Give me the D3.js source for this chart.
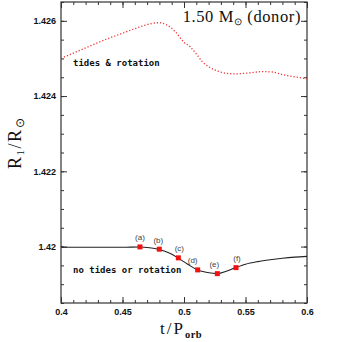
<!DOCTYPE html>
<html>
<head>
<meta charset="utf-8">
<script src="https://cdn.jsdelivr.net/npm/d3@7"></script>
<style>
  body { margin: 0; background: #fff; }
  svg { display: block; }
</style>
</head>
<body>
<svg id="chart1"></svg>
<script>
// Data
const tidesT = [0.400, 0.410, 0.420, 0.430, 0.440, 0.450, 0.460, 0.468, 0.474, 0.480, 0.486, 0.493, 0.500, 0.505, 0.510, 0.515, 0.520, 0.527, 0.533, 0.540, 0.547, 0.554, 0.564, 0.572, 0.580, 0.590, 0.600];
const tidesR = [1.42500, 1.42514, 1.42528, 1.42542, 1.42555, 1.42567, 1.42579, 1.42588, 1.42593, 1.42595, 1.42589, 1.42571, 1.42543, 1.42531, 1.42512, 1.42491, 1.42478, 1.42467, 1.42461, 1.42459, 1.42460, 1.42462, 1.42465, 1.42464, 1.42457, 1.42451, 1.42446];

const noTidesT = [0.400, 0.402, 0.410, 0.430, 0.450, 0.464, 0.472, 0.480, 0.488, 0.495, 0.503, 0.511, 0.519, 0.527, 0.535, 0.542, 0.550, 0.560, 0.570, 0.580, 0.590, 0.600];
const noTidesR = [1.42001, 1.41998, 1.41998, 1.41998, 1.41998, 1.41999, 1.41997, 1.41992, 1.41983, 1.41970, 1.41953, 1.41938, 1.41931, 1.41928, 1.41935, 1.41944, 1.41953, 1.41960, 1.41965, 1.41969, 1.41972, 1.41974];

const markerT = [0.4642, 0.4799, 0.4954, 0.5111, 0.5271, 0.5423];
const markerR = [1.41999, 1.41993, 1.41970, 1.41938, 1.41928, 1.41944];
const markerLabels = ["(a)", "(b)", "(c)", "(d)", "(e)", "(f)"];
const markerDx = [0, -1, 1, -5, -3, 1];

const xMajor = [0.4, 0.45, 0.5, 0.55, 0.6];
const xMajorLabels = ["0.4", "0.45", "0.5", "0.55", "0.6"];
const yMajor = [1.420, 1.422, 1.424, 1.426];
const yMajorLabels = ["1.42", "1.422", "1.424", "1.426"];

// Declare the chart dimensions and margins.
const width = 359;
const height = 342;
const marginTop = 2;
const marginRight = 52;
const marginBottom = 39;
const marginLeft = 61;

const xScale = d3.scaleLinear()
    .domain([0.4, 0.6])
    .range([marginLeft, width - marginRight]);

const yScale = d3.scaleLinear()
    .domain([1.4185, 1.4265])
    .range([height - marginBottom, marginTop]);

const svg = d3.select("#chart1")
    .attr("width", width)
    .attr("height", height);

const axisColor = "#333";
const tickFont = "bold 9px 'Liberation Sans', Arial, sans-serif";

// frame
svg.append("rect")
    .attr("x", marginLeft)
    .attr("y", marginTop)
    .attr("width", width - marginRight - marginLeft)
    .attr("height", height - marginBottom - marginTop)
    .attr("fill", "none")
    .attr("stroke", axisColor)
    .attr("stroke-width", 1.2);

function styleAxis(g) {
    g.select(".domain").remove();
    g.selectAll("line").attr("stroke", axisColor).attr("stroke-width", 1);
    g.selectAll("text").style("font", tickFont).attr("fill", "#111");
}

const xMinor = d3.range(0.4, 0.6001, 0.01);
const yMinor = d3.range(1.4185, 1.42651, 0.0005);

// bottom
svg.append("g")
    .attr("transform", `translate(0,${height - marginBottom})`)
    .call(d3.axisBottom(xScale).tickValues(xMinor).tickSize(-3).tickFormat(""))
    .call(styleAxis);
svg.append("g")
    .attr("transform", `translate(0,${height - marginBottom})`)
    .call(d3.axisBottom(xScale).tickValues(xMajor).tickSize(-6).tickPadding(6)
        .tickFormat((d, i) => xMajorLabels[i]))
    .call(styleAxis);
// top
svg.append("g")
    .attr("transform", `translate(0,${marginTop})`)
    .call(d3.axisTop(xScale).tickValues(xMinor).tickSize(-3).tickFormat(""))
    .call(styleAxis);
svg.append("g")
    .attr("transform", `translate(0,${marginTop})`)
    .call(d3.axisTop(xScale).tickValues(xMajor).tickSize(-6).tickFormat(""))
    .call(styleAxis);
// left
svg.append("g")
    .attr("transform", `translate(${marginLeft},0)`)
    .call(d3.axisLeft(yScale).tickValues(yMinor).tickSize(-3).tickFormat(""))
    .call(styleAxis);
svg.append("g")
    .attr("transform", `translate(${marginLeft},0)`)
    .call(d3.axisLeft(yScale).tickValues(yMajor).tickSize(-6).tickPadding(5)
        .tickFormat((d, i) => yMajorLabels[i]))
    .call(styleAxis);
// right
svg.append("g")
    .attr("transform", `translate(${width - marginRight},0)`)
    .call(d3.axisRight(yScale).tickValues(yMinor).tickSize(-3).tickFormat(""))
    .call(styleAxis);
svg.append("g")
    .attr("transform", `translate(${width - marginRight},0)`)
    .call(d3.axisRight(yScale).tickValues(yMajor).tickSize(-6).tickFormat(""))
    .call(styleAxis);

// curves
const line = d3.line()
    .x(d => xScale(d[0]))
    .y(d => yScale(d[1]))
    .curve(d3.curveMonotoneX);

svg.append("path")
    .datum(tidesT.map((t, i) => [t, tidesR[i]]))
    .attr("d", line)
    .attr("fill", "none")
    .attr("stroke", "#f03030")
    .attr("stroke-width", 1.3)
    .attr("stroke-dasharray", "1.2,2");

svg.append("path")
    .datum(noTidesT.map((t, i) => [t, noTidesR[i]]))
    .attr("d", line)
    .attr("fill", "none")
    .attr("stroke", "#222")
    .attr("stroke-width", 1.1);

// markers
const ms = 5;
svg.selectAll("rect.marker")
    .data(markerT)
    .join("rect")
    .attr("class", "marker")
    .attr("x", d => xScale(d) - ms / 2)
    .attr("y", (d, i) => yScale(markerR[i]) - ms / 2)
    .attr("width", ms)
    .attr("height", ms)
    .attr("fill", "#f21010");

svg.selectAll("text.mlabel")
    .data(markerT)
    .join("text")
    .attr("class", "mlabel")
    .attr("x", (d, i) => xScale(d) + markerDx[i])
    .attr("y", (d, i) => yScale(markerR[i]) - 6.5)
    .attr("text-anchor", "middle")
    .style("font", "8px 'Liberation Sans', Arial, sans-serif")
    .attr("fill", "#444")
    .text((d, i) => markerLabels[i]);

// annotations
const monoFont = "600 9px 'DejaVu Sans Mono', monospace";
svg.append("text")
    .attr("x", 73)
    .attr("y", 66)
    .style("font", monoFont)
    .attr("fill", "#111")
    .text("tides & rotation");

svg.append("text")
    .attr("x", 73)
    .attr("y", 273)
    .style("font", monoFont)
    .attr("fill", "#111")
    .text("no tides or rotation");

const serif = "'Liberation Serif', 'Times New Roman', serif";

// title
const title = svg.append("text")
    .attr("x", 301)
    .attr("y", 22)
    .attr("text-anchor", "end")
    .style("font-family", serif)
    .style("font-size", "16.5px")
    .style("letter-spacing", "0.6px")
    .attr("fill", "#111");
title.append("tspan").text("1.50 M");
title.append("tspan").attr("dy", 3).style("font-size", "10px").text("\u2299");
title.append("tspan").attr("dy", -3).text(" (donor)");

// x label
const xLabel = svg.append("text")
    .attr("x", 160)
    .attr("y", 334)
    .style("font-family", serif)
    .style("font-size", "17px")
    .style("letter-spacing", "2px")
    .attr("fill", "#111");
xLabel.append("tspan").text("t/P");
xLabel.append("tspan").attr("dy", 4).style("font-size", "10.5px").style("font-weight", "bold").style("letter-spacing", "0.5px").text("orb");

// y label
const yLabel = svg.append("text")
    .attr("transform", "translate(21,143) rotate(-90)")
    .attr("text-anchor", "middle")
    .style("font-family", serif)
    .style("font-size", "18px")
    .style("letter-spacing", "1.5px")
    .attr("fill", "#111");
yLabel.append("tspan").text("R");
yLabel.append("tspan").attr("dy", 3).style("font-size", "11px").text("1");
yLabel.append("tspan").attr("dy", -3).text("/R");
yLabel.append("tspan").attr("dy", 3).style("font-size", "12px").text("\u2299");
</script>
</body>
</html>
